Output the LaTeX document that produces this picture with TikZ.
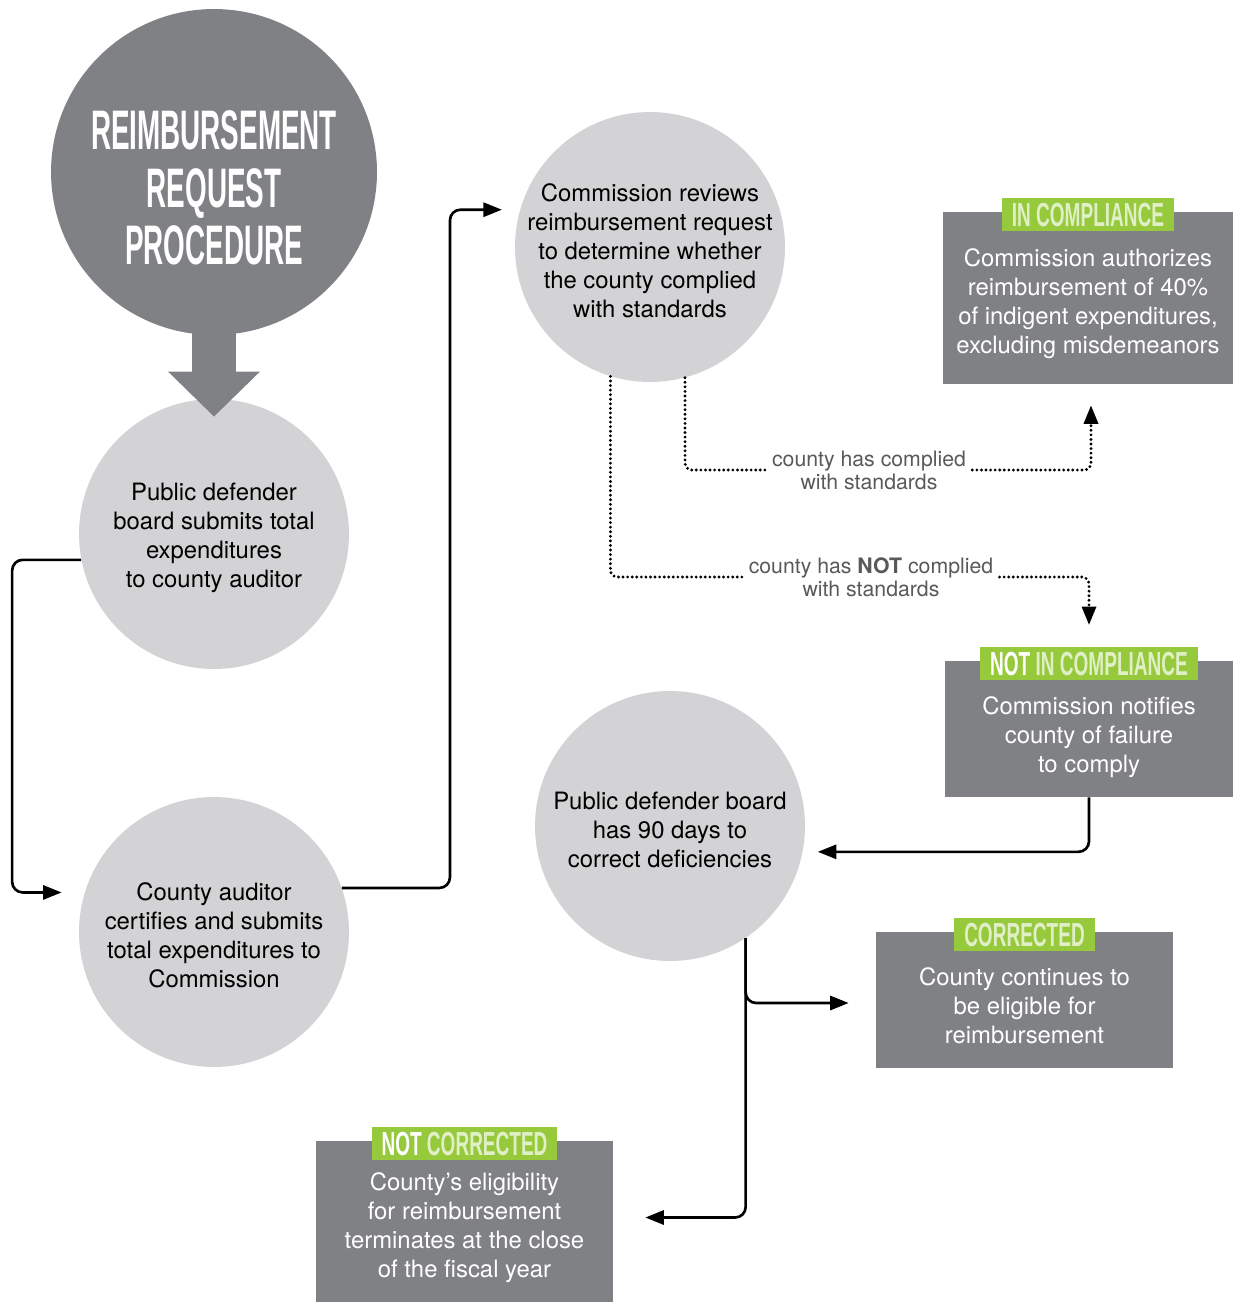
\documentclass[tikz,border=0pt]{standalone}
\usepackage{fontspec}
\setmainfont{TeX Gyre Heros}
\newfontfamily\headfont[FakeStretch=0.5]{Liberation Sans}
\newfontfamily\tagfont[FakeStretch=0.57]{Liberation Sans}
\usetikzlibrary{positioning,
        arrows.meta}
\definecolor{darkgrey}{RGB}{128,129,133}
\definecolor{lightgrey}{RGB}{211,211,213}
\definecolor{taggreen}{RGB}{151,201,61}
\definecolor{labelgrey}{RGB}{88,89,91}
\newcommand{\outl}[1]{{\color{taggreen!30!white}#1}}
\newcommand{\lift}[1][14.4pt]{\rule{0pt}{#1}}

\begin{document}
\begin{tikzpicture}[x=0.02cm,y=-0.02cm,
        bubble/.style={circle,fill=lightgrey,minimum size=5.4cm,inner sep=-0.3cm,align=center,
            font=\fontsize{13.6}{16.5}\selectfont},
        box/.style={fill=darkgrey,text=white,align=center,inner sep=0pt,
            font=\fontsize{13.6}{16.5}\selectfont},
        tag/.style={fill=taggreen,text=white,inner xsep=0.2cm,inner ysep=0pt,minimum height=0.66cm,
            font=\tagfont\bfseries\fontsize{19}{19}\selectfont},
        flow/.style={line width=1.5pt,rounded corners=6pt,-{Triangle[length=10.5pt,width=8pt]}},
        cond/.style={line width=1.8pt,line cap=round,dash pattern=on 0pt off 2.6pt,rounded corners=4pt},
        condarrow/.style={cond,-{Triangle[length=10.5pt,width=8pt]}},
        condlabel/.style={text=labelgrey,align=center,inner xsep=0.12cm,
            font=\fontsize{12.1}{13.2}\selectfont}]
            \useasboundingbox (0,0) rectangle (1233,1302);

            % title and the four steps
            \node [circle,fill=darkgrey,minimum size=6.52cm] (title) at (214,172) {};
            \node [text=white,align=center,font=\headfont\bfseries\fontsize{31.7}{32.9}\selectfont] (titletext) at (214,188) {REIMBURSEMENT\\REQUEST\\PROCEDURE};
            \node [bubble] (board) at (214,534) {\lift Public defender\\board submits total\\expenditures\\to county auditor};
            \node [bubble] (auditor) at (214,932) {\lift County auditor\\certifies and submits\\total expenditures to\\Commission};
            \node [bubble] (review) at (650,247) {\lift Commission reviews\\reimbursement request\\to determine whether\\the county complied\\with standards};
            \node [bubble] (deadline) at (670,826) {\lift Public defender board\\has 90 days to\\correct deficiencies};
            \draw [darkgrey,line width=0.88cm,-{Triangle[length=0.9cm,width=1.78cm]}] ([yshift=0.1cm]title.south) -- ([yshift=-0.36cm]board.north);

            % outcomes
            \node [box,minimum width=5.8cm,minimum height=3.44cm] (ic) at (1088,298) {\lift[17pt]Commission authorizes\\reimbursement of 40\%\\of indigent expenditures,\\excluding misdemeanors};
            \node [tag,above=-0.4cm of ic.north] (ictag) {\outl{IN COMPLIANCE}};
            \node [box,minimum width=5.76cm,minimum height=2.72cm] (nic) at (1089,729) {\lift[20pt]Commission notifies\\county of failure\\to comply};
            \node [tag,above=-0.4cm of nic.north] (nictag) {NOT \outl{IN COMPLIANCE}};
            \node [box,minimum width=5.94cm,minimum height=2.72cm] (corr) at (1024.5,1000) {\lift[17pt]County continues to\\be eligible for\\reimbursement};
            \node [tag,above=-0.4cm of corr.north] (corrtag) {\outl{CORRECTED}};
            \node [box,minimum width=5.94cm,minimum height=3.22cm] (notcorr) at (464.5,1221.5) {\lift[17pt]County’s eligibility\\for reimbursement\\terminates at the close\\of the fiscal year};
            \node [tag,above=-0.4cm of notcorr.north] (notcorrtag) {NOT \outl{CORRECTED}};

            \node [condlabel] (complied) at (869,470) {county has complied\\with standards};
            \node [condlabel] (notcomplied) at (871,577) {county has \textbf{NOT} complied\\with standards};

            % connectors
            \draw [flow,shorten >=0.46cm] (board.191) -- ++(-69,0) |- (auditor.163);
            \draw [flow,shorten >=0.36cm] (auditor.19) -- ++(108,0) |- (review.164);
            \draw [cond] (review.-75) |- (complied.west);
            \draw [condarrow,shorten >=0.42cm] (complied.east) -| ([xshift=0.06cm]ic.south);
            \draw [cond] (review.-107) |- (notcomplied.west);
            \draw [condarrow,shorten >=0.44cm] (notcomplied.east) -| (nictag.north);
            \draw [flow,shorten >=0.3cm] (nic.south) |- (deadline.-11);
            \draw [flow,shorten >=0.64cm] (deadline.-56) |- ([yshift=0.08cm]notcorr.east);
            \draw [flow,shorten >=0.54cm] (deadline.-56) |- ([yshift=-0.06cm]corr.west);
        \end{tikzpicture}
\end{document}
